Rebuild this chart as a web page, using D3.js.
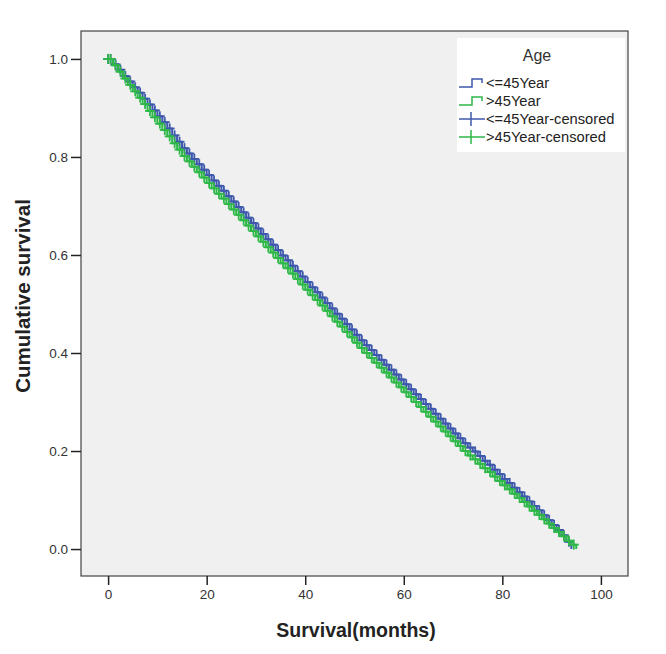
<!DOCTYPE html>
<html><head><meta charset="utf-8">
<script src="https://cdn.jsdelivr.net/npm/d3@7"></script>
<style>
body{margin:0;background:#fff;}
svg{display:block;font-family:"Liberation Sans",Arial,sans-serif;}
</style></head>
<body>
<svg id="chart" width="666" height="654"></svg>
<script>
// Survival after each monthly step (month index = position)
const groupNames = ["<=45Year", ">45Year"];
const survLE45 = [1.000,0.989,0.978,0.965,0.954,0.942,0.931,0.919,0.907,0.895,0.883,0.871,0.858,0.844,0.831,0.818,0.807,0.796,0.785,0.774,0.763,0.752,0.741,0.731,0.720,0.709,0.698,0.687,0.676,0.665,0.654,0.643,0.632,0.621,0.610,0.599,0.589,0.578,0.567,0.556,0.545,0.534,0.524,0.513,0.502,0.491,0.480,0.470,0.459,0.448,0.437,0.426,0.416,0.406,0.396,0.386,0.376,0.366,0.356,0.346,0.336,0.326,0.316,0.306,0.296,0.286,0.276,0.266,0.256,0.246,0.236,0.226,0.216,0.207,0.199,0.190,0.180,0.172,0.162,0.153,0.143,0.135,0.125,0.116,0.107,0.097,0.088,0.079,0.069,0.059,0.049,0.039,0.028,0.015,0.000];
const survGT45 = [1.000,0.987,0.974,0.960,0.947,0.934,0.921,0.908,0.894,0.881,0.868,0.855,0.842,0.828,0.815,0.802,0.791,0.780,0.769,0.758,0.747,0.736,0.725,0.715,0.704,0.693,0.682,0.671,0.660,0.649,0.638,0.627,0.616,0.605,0.594,0.583,0.573,0.562,0.551,0.540,0.529,0.518,0.508,0.497,0.486,0.475,0.464,0.454,0.443,0.432,0.421,0.410,0.400,0.390,0.380,0.370,0.360,0.350,0.340,0.330,0.320,0.310,0.300,0.290,0.280,0.270,0.260,0.250,0.240,0.230,0.220,0.210,0.200,0.191,0.183,0.174,0.165,0.157,0.148,0.139,0.130,0.122,0.113,0.104,0.096,0.087,0.078,0.070,0.061,0.052,0.043,0.035,0.026,0.017,0.009,0.000];
const xTicks = [0,20,40,60,80,100];
const yTicks = [0.0,0.2,0.4,0.6,0.8,1.0];
const legendTitle = "Age";
const legendLabels = ["<=45Year", ">45Year", "<=45Year-censored", ">45Year-censored"];
const xTitle = "Survival(months)";
const yTitle = "Cumulative survival";

const colors = ["#3e58ac", "#2eb848"];
const svg = d3.select("#chart");
const L = 81, R = 628, T = 31, B = 576;
const x = d3.scaleLinear().domain([-5.5, 105.5]).range([L, R]);
const y = d3.scaleLinear().domain([-0.055, 1.057]).range([B, T]);

svg.append("rect").attr("x", L).attr("y", T).attr("width", R - L).attr("height", B - T)
  .attr("fill", "#f0f0f0").attr("stroke", "#444").attr("stroke-width", 1.2);

const series = [survLE45, survGT45];
[0, 1].forEach(gi => {
  const s = series[gi];
  const pts = [];
  s.forEach((v, k) => {
    if (k === 0) { pts.push([0, v]); }
    else { pts.push([k, s[k - 1]]); pts.push([k, v]); }
  });
  const line = d3.line().x(d => x(d[0])).y(d => y(d[1]));
  svg.append("path").attr("d", line(pts)).attr("fill", "none")
    .attr("stroke", colors[gi]).attr("stroke-width", 2);
  const g = svg.append("g").attr("stroke", colors[gi]).attr("stroke-width", 1.8);
  s.forEach((v, k) => {
    const cx = k === 0 ? x(0) : x(k - 0.5), cy = k === 0 ? y(1) : y(s[k - 1]);
    const h = 5;
    g.append("line").attr("x1", cx - h).attr("x2", cx + h).attr("y1", cy).attr("y2", cy);
    g.append("line").attr("x1", cx).attr("x2", cx).attr("y1", cy - h).attr("y2", cy + h);
  });
});

// axes
const xAxis = d3.axisBottom(x).tickValues(xTicks).tickSize(9).tickPadding(4).tickFormat(d3.format("d"));
const gx = svg.append("g").attr("transform", `translate(0,${B})`).call(xAxis);
const yAxis = d3.axisLeft(y).tickValues(yTicks).tickSize(10).tickPadding(3).tickFormat(d3.format(".1f"));
const gy = svg.append("g").attr("transform", `translate(${L},0)`).call(yAxis);
[gx, gy].forEach(g => {
  g.select(".domain").remove();
  g.selectAll(".tick line").attr("stroke", "#222").attr("stroke-width", 1.5);
  g.selectAll(".tick text").attr("fill", "#333").attr("font-size", 13.5)
    .attr("font-family", "Liberation Sans, Arial, sans-serif");
});

svg.append("text").attr("x", 356).attr("y", 637).attr("text-anchor", "middle")
  .attr("font-weight", "bold").attr("font-size", 19.5).attr("fill", "#222").text(xTitle);
svg.append("text").attr("transform", "translate(30,296) rotate(-90)").attr("text-anchor", "middle")
  .attr("font-weight", "bold").attr("font-size", 20.5).attr("fill", "#222").text(yTitle);

// legend
const lg = svg.append("g");
lg.append("rect").attr("x", 457).attr("y", 38).attr("width", 168).attr("height", 114).attr("fill", "#fff");
lg.append("text").attr("x", 537).attr("y", 61).attr("text-anchor", "middle").attr("font-size", 16)
  .attr("fill", "#333").text(legendTitle);
const rowY = [83, 101, 119, 137];
legendLabels.forEach((lab, i) => {
  const yy = rowY[i];
  const c = colors[i % 2];
  if (i < 2) {
    lg.append("path").attr("d", `M459,${yy + 4}H472V${yy - 4}H482V${yy}`).attr("fill", "none")
      .attr("stroke", c).attr("stroke-width", 1.5);
  } else {
    lg.append("line").attr("x1", 459).attr("x2", 485).attr("y1", yy).attr("y2", yy).attr("stroke", c).attr("stroke-width", 1.5);
    lg.append("line").attr("x1", 471).attr("x2", 471).attr("y1", yy - 7).attr("y2", yy + 7).attr("stroke", c).attr("stroke-width", 1.5);
  }
  lg.append("text").attr("x", 486).attr("y", yy + 5).attr("font-size", 14.7).attr("fill", "#222").text(lab);
});
</script>
</body></html>
